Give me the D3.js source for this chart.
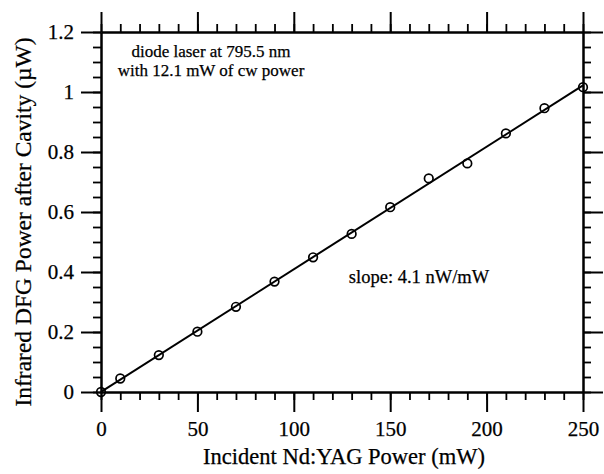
<!DOCTYPE html>
<html>
<head>
	<meta charset="utf-8">
	<title>DFG power vs Nd:YAG power</title>
	<script src="https://cdn.jsdelivr.net/npm/d3@7"></script>
	<style>
		body { margin: 0; background: #fff; }
		text { stroke: #000; stroke-width: 0.25px; }
	</style>
</head>
<body>
	<div id="chart"></div>
	<script>

	// data
	const powerIn  = [0, 10, 30, 50, 70, 90, 110, 130, 150, 170, 190, 210, 230, 250];
	const powerDfg = [0, 0.045, 0.123, 0.201, 0.284, 0.368, 0.449, 0.527, 0.616, 0.712, 0.762, 0.862, 0.946, 1.016];

	const xTicks  = [0, 50, 100, 150, 200, 250];
	const xLabels = ["0", "50", "100", "150", "200", "250"];
	const yTicks  = [0, 0.2, 0.4, 0.6, 0.8, 1, 1.2];
	const yLabels = ["0", "0.2", "0.4", "0.6", "0.8", "1", "1.2"];
	const xMinorStep = 10;
	const yMinorStep = 0.05;

	const notes = ["diode laser at 795.5 nm", "with 12.1 mW of cw power"];
	const slopeNote = "slope: 4.1 nW/mW";

	const width = 604, height = 474;
	const margin = {top: 32, right: 21, bottom: 82, left: 101};
	const serif = "'Liberation Serif', 'Times New Roman', serif";

	const svg = d3.select("#chart").append("svg")
		.attr("width", width)
		.attr("height", height)
		.attr("font-family", serif);

	const x = d3.scaleLinear().domain([0, 250]).range([margin.left, width - margin.right]);
	const y = d3.scaleLinear().domain([0, 1.2]).range([height - margin.bottom, margin.top]);

	const xMinor = d3.range(0, 250 + 1e-9, xMinorStep);
	const yMinor = d3.range(0, 24.5).map(i => +(i * yMinorStep).toFixed(2));

	function styleAxis(g, w) {
		g.attr("font-family", serif).attr("font-size", 21);
		g.select(".domain").attr("stroke", "#000").attr("stroke-width", 2);
		g.selectAll(".tick line").attr("stroke", "#000").attr("stroke-width", w);
		g.selectAll("text").attr("font-family", serif).attr("font-size", 21).attr("fill", "#000");
	}

	const bottomY = height - margin.bottom;
	const rightX = width - margin.right;

	// minor ticks
	[
		[d3.axisBottom(x).tickValues(xMinor), `translate(0,${bottomY})`],
		[d3.axisTop(x).tickValues(xMinor), `translate(0,${margin.top})`],
		[d3.axisLeft(y).tickValues(yMinor), `translate(${margin.left},0)`],
		[d3.axisRight(y).tickValues(yMinor), `translate(${rightX},0)`]
	].forEach(([ax, t]) => {
		svg.append("g").attr("transform", t)
			.call(ax.tickSize(8).tickSizeOuter(0).tickFormat(""))
			.call(g => styleAxis(g, 1.8));
	});

	// major ticks with labels
	svg.append("g").attr("transform", `translate(0,${bottomY})`)
		.call(d3.axisBottom(x).tickValues(xTicks).tickSize(20).tickSizeOuter(0).tickPadding(9)
			.tickFormat((d, i) => xLabels[i]))
		.call(g => styleAxis(g, 2));

	svg.append("g").attr("transform", `translate(0,${margin.top})`)
		.call(d3.axisTop(x).tickValues(xTicks).tickSize(20).tickSizeOuter(0).tickFormat(""))
		.call(g => styleAxis(g, 2));

	svg.append("g").attr("transform", `translate(${margin.left},0)`)
		.call(d3.axisLeft(y).tickValues(yTicks).tickSize(20).tickSizeOuter(0).tickPadding(7)
			.tickFormat((d, i) => yLabels[i]))
		.call(g => styleAxis(g, 2));

	svg.append("g").attr("transform", `translate(${rightX},0)`)
		.call(d3.axisRight(y).tickValues(yTicks).tickSize(20).tickSizeOuter(0).tickFormat(""))
		.call(g => styleAxis(g, 2));

	// linear fit through the points
	const mx = d3.mean(powerIn), my = d3.mean(powerDfg);
	const slope = d3.sum(powerIn, (v, i) => (v - mx) * (powerDfg[i] - my)) / d3.sum(powerIn, v => (v - mx) ** 2);
	const icpt = my - slope * mx;
	const fitX = [powerIn[0], powerIn[powerIn.length - 1]];

	svg.append("path")
		.attr("fill", "none")
		.attr("stroke", "#000")
		.attr("stroke-width", 2)
		.attr("d", d3.line().x(d => x(d)).y(d => y(slope * d + icpt))(fitX));

	svg.append("g")
		.selectAll("circle")
		.data(powerIn)
		.join("circle")
		.attr("cx", d => x(d))
		.attr("cy", (d, i) => y(powerDfg[i]))
		.attr("r", 4.3)
		.attr("fill", "none")
		.attr("stroke", "#000")
		.attr("stroke-width", 1.7);

	// notes
	svg.append("g")
		.attr("text-anchor", "middle")
		.attr("font-size", 17)
		.selectAll("text")
		.data(notes)
		.join("text")
		.attr("x", 211)
		.attr("y", 57)
		.attr("dy", (d, i) => i * 19)
		.text(d => d);

	svg.append("text")
		.attr("x", 419)
		.attr("y", 283)
		.attr("text-anchor", "middle")
		.attr("font-size", 18.5)
		.text(slopeNote);

	// axis titles
	svg.append("text")
		.attr("x", 344)
		.attr("y", 464)
		.attr("text-anchor", "middle")
		.attr("font-size", 22.5)
		.text("Incident Nd:YAG Power (mW)");

	svg.append("text")
		.attr("transform", `translate(31,222) rotate(-90)`)
		.attr("text-anchor", "middle")
		.attr("font-size", 23.5)
		.text("Infrared DFG Power after Cavity (\u00b5W)");

	</script>
</body>
</html>
